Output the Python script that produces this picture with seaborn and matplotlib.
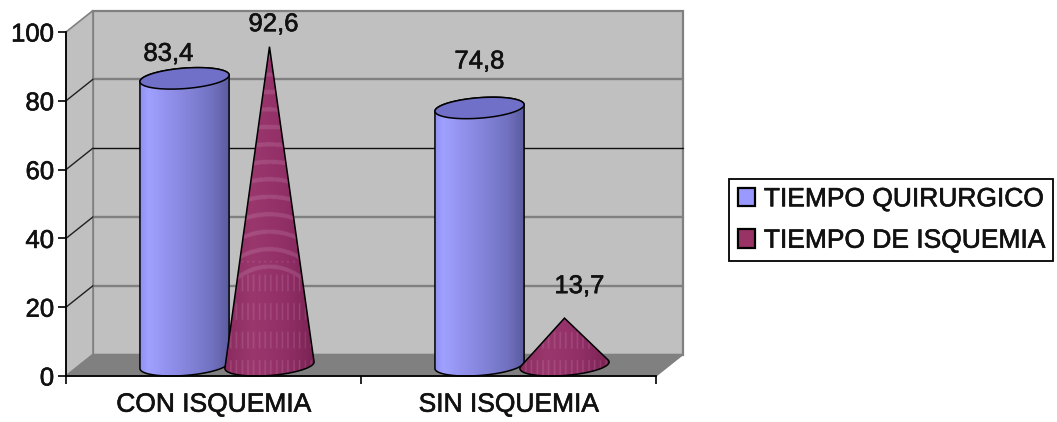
import numpy as np
import pandas as pd
import matplotlib
matplotlib.use("Agg")
import matplotlib.pyplot as plt
import matplotlib.patheffects as pe
from matplotlib.colors import LinearSegmentedColormap
from matplotlib.patches import Polygon
import seaborn as sns

# Chart values
categories = ["CON ISQUEMIA", "SIN ISQUEMIA"]
series_names = ["TIEMPO QUIRURGICO", "TIEMPO DE ISQUEMIA"]
tiempo_quirurgico = [83.4, 74.8]
tiempo_isquemia = [92.6, 13.7]
y_ticks = [0, 20, 40, 60, 80, 100]

sns.set_theme(style="white")
plt.rcParams["font.family"] = ["Liberation Sans", "DejaVu Sans"]

FIG_W, FIG_H = 1057, 422
fig = plt.figure(figsize=(FIG_W / 100, FIG_H / 100), dpi=100)
ax = fig.add_axes([66 / FIG_W, (FIG_H - 376) / FIG_H, 590 / FIG_W, 344 / FIG_H])

df = pd.DataFrame({
    "categoria": categories * 2,
    "serie": [series_names[0]] * 2 + [series_names[1]] * 2,
    "valor": tiempo_quirurgico + tiempo_isquemia,
})
palette = dict(zip(series_names, ["#9999FF", "#993366"]))
sns.barplot(data=df, x="categoria", y="valor", hue="serie", order=categories,
            hue_order=series_names, palette=palette, width=0.576, saturation=1,
            edgecolor="black", linewidth=1.6, ax=ax, errorbar=None)
bars = list(ax.patches)[:4]
for b in bars:
    b.set_visible(False)

ax.set_xlim(-0.5, 1.5)
ax.set_ylim(0, 100)

# Half of the oblique depth, in data units
DX = 13.5 / 295
DY = 10.75 / 3.44
X0, X1 = -0.5, 1.5

# Walls and floor of the box
WALL = "#C0C0C0"
FLOOR = "#808080"
EDGE = "#808080"
ax.add_patch(Polygon([(X0 + 2 * DX, 2 * DY), (X1 + 2 * DX, 2 * DY), (X1 + 2 * DX, 100 + 2 * DY),
                      (X0 + 2 * DX, 100 + 2 * DY)], closed=True, fc=WALL, ec=EDGE, lw=1.6,
                     zorder=0.2, clip_on=False))
ax.add_patch(Polygon([(X0, 0), (X0 + 2 * DX, 2 * DY), (X0 + 2 * DX, 100 + 2 * DY), (X0, 100)],
                     closed=True, fc=WALL, ec=EDGE, lw=1.2, zorder=0.3, clip_on=False))
ax.add_patch(Polygon([(X0, 0), (X1, 0), (X1 + 2 * DX, 2 * DY), (X0 + 2 * DX, 2 * DY)],
                     closed=True, fc=FLOOR, ec=EDGE, lw=1.0, zorder=0.4, clip_on=False))

for v in y_ticks[1:5]:
    strong = v == 60
    ax.plot([X0 + 2 * DX, X1 + 2 * DX], [v + 2 * DY] * 2, clip_on=False, zorder=0.5,
            color="#101010" if strong else EDGE, lw=1.0 if strong else 1.7)
    ax.plot([X0, X0 + 2 * DX], [v, v + 2 * DY], color="#202020", lw=1.0, clip_on=False, zorder=0.6)


def ellipse(cx, cy, half_w, t):
    return cx + half_w * np.cos(t) + DX * np.sin(t), cy + DY * np.sin(t)


def gradient_fill(patch, x_lo, x_hi, y_lo, y_hi, rgb, zorder):
    ax.add_patch(patch)
    im = ax.imshow(rgb, extent=(x_lo, x_hi, y_lo, y_hi), origin="lower", aspect="auto",
                   interpolation="bilinear", zorder=zorder)
    im.set_clip_path(patch)
    outline = Polygon(patch.get_xy(), closed=True, fc="none", ec="black", lw=1.1,
                      zorder=zorder + 0.1, clip_on=False)
    ax.add_patch(outline)


cyl_cmap = LinearSegmentedColormap.from_list(
    "cyl", [(0, "#8E8EEE"), (0.1, "#A0A0FF"), (0.5, "#8686DE"), (0.8, "#7272C2"), (1, "#5A5A9E")])
cone_cmap = LinearSegmentedColormap.from_list(
    "cone", [(0, "#8A2A5E"), (0.3, "#9A386E"), (0.7, "#902E66"), (1, "#7A2353")])


def draw_cylinder(bar, zorder):
    cx = bar.get_x() + bar.get_width() / 2 + DX
    hw = bar.get_width() / 2
    top = bar.get_height() + DY
    t0 = np.arctan2(DX, hw)
    bx, by = ellipse(cx, DY, hw, np.linspace(t0 + np.pi, t0 + 2 * np.pi, 80))
    tx, ty = ellipse(cx, top, hw, np.linspace(t0, t0 + np.pi, 80))
    body = Polygon(np.r_[np.c_[bx, by], np.c_[tx, ty]], closed=True, fc="none", ec="none",
                   transform=ax.transData)
    reach = hw * 1.06
    grad = cyl_cmap(np.linspace(0, 1, 256))[None, :, :3]
    gradient_fill(body, cx - reach, cx + reach, 0, top + DY, grad, zorder)
    ex, ey = ellipse(cx, top, hw, np.linspace(0, 2 * np.pi, 160))
    ax.add_patch(Polygon(np.c_[ex, ey], closed=True, fc="#7070C8", ec="black", lw=1.1,
                         zorder=zorder + 0.2, clip_on=False))


def draw_cone(bar, zorder):
    cx = bar.get_x() + bar.get_width() / 2 + DX
    hw = bar.get_width() / 2
    apex_y = bar.get_height() + DY
    t = np.linspace(0, 2 * np.pi, 2000, endpoint=False)
    px, py = ellipse(cx, DY, hw, t)
    dxt = -hw * np.sin(t) + DX * np.cos(t)
    dyt = DY * np.cos(t)
    f = dxt * (py - apex_y) - dyt * (px - cx)
    roots = t[np.nonzero(np.sign(f) != np.sign(np.roll(f, 1)))[0]]
    t1, t2 = roots[0], roots[1]
    arcs = [np.linspace(t1, t2, 120), np.linspace(t2, t1 + 2 * np.pi, 120)]
    arc = min(arcs, key=lambda a: ellipse(cx, DY, hw, a)[1].mean())
    ax_, ay_ = ellipse(cx, DY, hw, arc)
    pts = np.r_[np.c_[ax_, ay_], [[cx, apex_y]]]
    body = Polygon(pts, closed=True, fc="none", ec="none", transform=ax.transData)

    # Shaded surface with the banded dither of the cone fill
    reach = hw * 1.06
    nx, ny = 180, max(60, int(apex_y * 7))
    u = np.linspace(-1, 1, nx)
    ypx = np.linspace(0, apex_y * 3.44, ny)
    xx, yy = np.meshgrid(u * reach * 295, ypx)
    rgb = cone_cmap((u + 1) / 2)[None, :, :3].repeat(ny, axis=0)
    rings = (np.sin(np.hypot(xx * 1.5, yy) * 0.36) > 0.72) & (yy > 95)
    stripes = (np.sin(xx * 1.1) > 0.7) & (np.sin(yy * 0.22) > -0.3) & (yy < 115)
    light = np.where(rings | stripes, 0.2, 0.0)[..., None]
    rgb = rgb * (1 - light) + np.array([0.85, 0.65, 0.78]) * light
    gradient_fill(body, cx - reach, cx + reach, 0, apex_y, rgb, zorder)


for bar in bars[:2]:
    draw_cylinder(bar, 3)
for bar in bars[2:]:
    draw_cone(bar, 4)

ax.set_xlim(-0.5, 1.5)
ax.set_ylim(0, 100)

# Slightly heavier glyphs for all chart text
heavy = [pe.withStroke(linewidth=0.45, foreground="#111111")]

# Value labels
label_nudges = [(-16, 24.5), (0, 46.5), (4, 22.5), (15, 32)]
for bar, (ox, oy) in zip(bars, label_nudges):
    h = bar.get_height()
    cx = bar.get_x() + bar.get_width() / 2 + DX
    ax.annotate(f"{h:.1f}".replace(".", ","), (cx, h + DY), xytext=(ox * 0.72, oy * 0.72),
                textcoords="offset points", ha="center", va="center", fontsize=18.5,
                color="#111111", zorder=6, annotation_clip=False, path_effects=heavy)

# Axes
sns.despine(ax=ax, top=True, right=True)
for side in ("left", "bottom"):
    ax.spines[side].set_color("black")
    ax.spines[side].set_linewidth(1.3)
    ax.spines[side].set_zorder(5)
ax.set_xlabel("")
ax.set_ylabel("")
ax.set_yticks(y_ticks)
ax.set_xticks([-0.5, 0.5, 1.5], labels=[])
ax.set_xticks([0, 1], labels=categories, minor=True)
ax.tick_params(axis="y", which="major", left=True, length=5.5, width=1.2, color="black",
               labelsize=18.5, labelcolor="#111111", pad=3)
ax.tick_params(axis="x", which="major", bottom=True, length=5.5, width=1.2, color="black")
ax.tick_params(axis="x", which="minor", bottom=False, length=0, labelsize=19,
               labelcolor="#111111", pad=12)
for lab in ax.get_yticklabels() + ax.get_xticklabels(minor=True):
    lab.set_path_effects(heavy)

# Legend
sns.move_legend(ax, loc="center left", bbox_to_anchor=(729 / FIG_W, (FIG_H - 220) / FIG_H),
                bbox_transform=fig.transFigure, title=None, frameon=True, fontsize=19,
                fancybox=False, framealpha=1, edgecolor="black", handlelength=0.65,
                handleheight=0.7, handletextpad=0.34, labelspacing=0.66, borderpad=0.33,
                borderaxespad=0, labelcolor="#111111")
legend = ax.get_legend()
legend.get_frame().set_linewidth(1.3)
legend.set_zorder(10)
for txt in legend.get_texts():
    txt.set_path_effects(heavy)

fig.savefig("out.png", dpi=100, facecolor="white")
